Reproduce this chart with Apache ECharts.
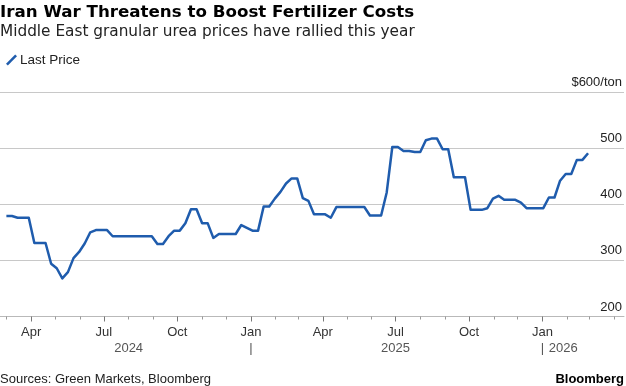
<!DOCTYPE html>
<html>
<head>
<meta charset="utf-8">
<script src="https://cdn.jsdelivr.net/npm/echarts@6/dist/echarts.min.js"></script>
<style>
html,body{margin:0;padding:0;background:#fff;}
#chart{width:626px;height:386px;}
</style>
</head>
<body>
<div id="chart"></div>
<script>
// ---- Data (weekly Middle East granular urea, $/ton) ----
const dates = [
  '2024-03-01','2024-03-08','2024-03-15','2024-03-22','2024-03-29',
  '2024-04-05','2024-04-12','2024-04-19','2024-04-26',
  '2024-05-03','2024-05-10','2024-05-17','2024-05-24','2024-05-31',
  '2024-06-07','2024-06-14','2024-06-21','2024-06-28',
  '2024-07-05','2024-07-12','2024-07-19','2024-07-26',
  '2024-08-02','2024-08-09','2024-08-16','2024-08-23','2024-08-30',
  '2024-09-06','2024-09-13','2024-09-20','2024-09-27',
  '2024-10-04','2024-10-11','2024-10-18','2024-10-25',
  '2024-11-01','2024-11-08','2024-11-15','2024-11-22','2024-11-29',
  '2024-12-06','2024-12-13','2024-12-20','2024-12-27',
  '2025-01-03','2025-01-10','2025-01-17','2025-01-24','2025-01-31',
  '2025-02-07','2025-02-14','2025-02-21','2025-02-28',
  '2025-03-07','2025-03-14','2025-03-21','2025-03-28',
  '2025-04-04','2025-04-11','2025-04-18','2025-04-25',
  '2025-05-02','2025-05-09','2025-05-16','2025-05-23','2025-05-30',
  '2025-06-06','2025-06-13','2025-06-20','2025-06-27',
  '2025-07-04','2025-07-11','2025-07-18','2025-07-25',
  '2025-08-01','2025-08-08','2025-08-15','2025-08-22','2025-08-29',
  '2025-09-05','2025-09-12','2025-09-19','2025-09-26',
  '2025-10-03','2025-10-10','2025-10-17','2025-10-24','2025-10-31',
  '2025-11-07','2025-11-14','2025-11-21','2025-11-28',
  '2025-12-05','2025-12-12','2025-12-19','2025-12-26',
  '2026-01-02','2026-01-09','2026-01-16','2026-01-23','2026-01-30',
  '2026-02-06','2026-02-13','2026-02-20','2026-02-27'
];
const lastPrice = [
  379,379,376,376,376,
  331,331,331,294,
  286,268,279,304,315,
  330,350,354,354,
  354,343,343,343,
  343,343,343,343,343,
  329,329,343,353,
  353,366,391,391,
  366,366,340,347,347,
  347,347,363,358,
  353,353,396,396,410,
  422,437,446,446,
  411,406,382,382,
  382,376,395,395,
  395,395,395,395,380,
  380,380,421,502,
  502,495,495,493,
  493,514,517,517,498,
  498,448,448,448,
  390,390,390,393,410,
  415,408,408,408,
  403,393,393,393,
  393,412,412,442,454,
  454,479,479,491
];
// ---- Axis ticks & labels ----
const xRange = ['2024-02-22','2026-04-13'];
const monthTicks = ['2024-04-01','2024-07-01','2024-10-01','2025-01-01','2025-04-01','2025-07-01','2025-10-01','2026-01-01'];
const monthTickLabels = ['Apr','Jul','Oct','Jan','Apr','Jul','Oct','Jan'];
const minorTicks = ['2024-03-01','2024-05-01','2024-06-01','2024-08-01','2024-09-01','2024-11-01','2024-12-01',
  '2025-02-01','2025-03-01','2025-05-01','2025-06-01','2025-08-01','2025-09-01','2025-11-01','2025-12-01',
  '2026-02-01','2026-03-01','2026-04-01'];
const yearLabelDates = ['2024-08-01','2025-01-01','2025-07-01','2026-01-01','2026-01-27'];
const yearLabels = ['2024','|','2025','|','2026'];
const yTicks = [200,300,400,500,600];
const yUnit = '$600/ton';

const T = s => Date.parse(s + 'T00:00:00Z');
const seriesData = dates.map((d, i) => [T(d), lastPrice[i]]);
const monthMap = {}; monthTicks.forEach((d, i) => monthMap[T(d)] = monthTickLabels[i]);
const yearMap = {}; yearLabelDates.forEach((d, i) => yearMap[T(d)] = yearLabels[i]);

const narrow = '"Liberation Sans Narrow", "Liberation Sans", Arial, sans-serif';
const sans = '"Liberation Sans", Arial, sans-serif';
const head = '"DejaVu Sans", "Liberation Sans", sans-serif';

const chart = echarts.init(document.getElementById('chart'), null, {renderer: 'canvas'});
const xBase = {
  type: 'value', min: T(xRange[0]), max: T(xRange[1]), gridIndex: 0,
  position: 'bottom', offset: 0, splitLine: {show: false}
};
chart.setOption({
  animation: false,
  backgroundColor: '#fff',
  title: {
    text: 'Iran War Threatens to Boost Fertilizer Costs',
    subtext: 'Middle East granular urea prices have rallied this year',
    left: -5, top: -1, itemGap: 4,
    textStyle: {fontFamily: head, fontWeight: 'bold', fontSize: 16.7, color: '#000'},
    subtextStyle: {fontFamily: head, fontSize: 15.3, color: '#222'}
  },
  legend: {
    left: 1, top: 48, itemWidth: 11, itemHeight: 11, itemGap: 10,
    icon: 'path://M0,9.2L9.2,0L11,1.8L1.8,11Z',
    textStyle: {fontFamily: sans, fontSize: 13.5, color: '#222', padding: [0, 0, 0, -2]},
    data: ['Last Price']
  },
  grid: {left: 0, right: 2, top: 92, bottom: 69.5, containLabel: false},
  xAxis: [
    Object.assign({}, xBase, {
      axisLine: {show: true, lineStyle: {color: '#b9b9b9', width: 1}},
      axisTick: {show: true, customValues: monthTicks.map(T), length: 5, lineStyle: {color: '#777'}},
      axisLabel: {show: true, customValues: monthTicks.map(T), margin: 9,
        formatter: v => monthMap[v] || '', fontFamily: narrow, fontSize: 13, color: '#333'}
    }),
    Object.assign({}, xBase, {
      axisLine: {show: false},
      axisTick: {show: true, customValues: minorTicks.map(T), length: 3, lineStyle: {color: '#999'}},
      axisLabel: {show: false}
    }),
    Object.assign({}, xBase, {
      axisLine: {show: false},
      axisTick: {show: false},
      axisLabel: {show: true, customValues: yearLabelDates.map(T), margin: 25,
        formatter: v => yearMap[v] || '', fontFamily: narrow, fontSize: 13, color: '#555'}
    })
  ],
  yAxis: {
    type: 'value', position: 'right', min: 200, max: 600, interval: 100,
    axisLine: {show: false}, axisTick: {show: false},
    splitLine: {show: true, lineStyle: {color: '#c8c8c8', width: 1.2}},
    axisLabel: {
      inside: true, margin: 2, verticalAlign: 'bottom', padding: [0, 0, 3, 0],
      customValues: yTicks,
      formatter: v => (v === 600 ? yUnit : String(v)),
      fontFamily: sans, fontSize: 13, color: '#222'
    }
  },
  series: [{
    name: 'Last Price', type: 'line', xAxisIndex: 0, yAxisIndex: 0,
    data: seriesData, showSymbol: false, symbol: 'none',
    lineStyle: {color: '#1f5cad', width: 2.5, join: 'round'},
    itemStyle: {color: '#1f5cad'}
  }],
  graphic: [
    {type: 'text', left: 0, top: 373, style: {text: 'Sources: Green Markets, Bloomberg', font: '13px ' + narrow, fill: '#222'}},
    {type: 'text', right: 2, top: 373, style: {text: 'Bloomberg', font: 'bold 13px ' + sans, fill: '#000'}}
  ]
});
</script>
</body>
</html>
